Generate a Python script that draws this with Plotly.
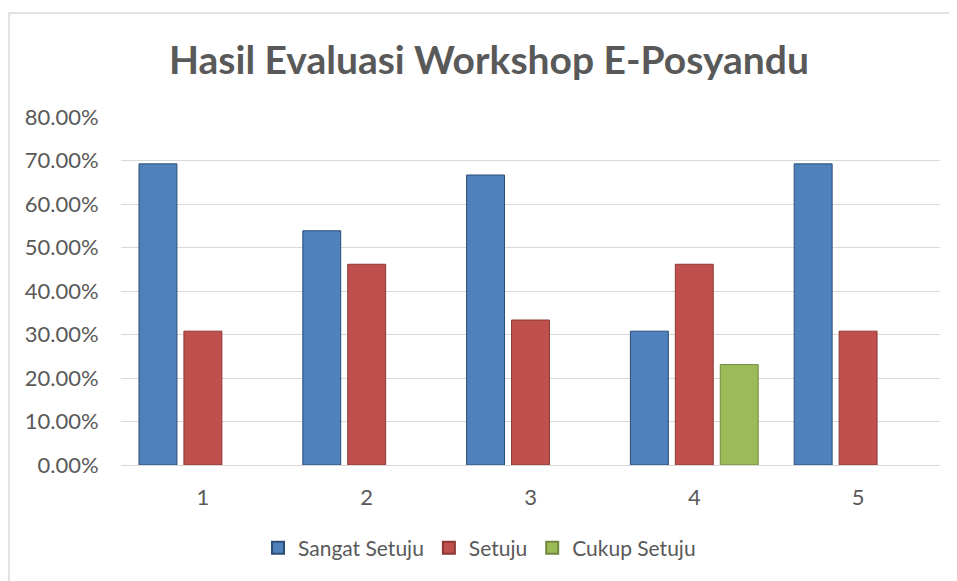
import plotly.graph_objects as go

categories = ["1", "2", "3", "4", "5"]
sangat_setuju = [0.6923, 0.5385, 0.6667, 0.3077, 0.6923]
setuju = [0.3077, 0.4615, 0.3333, 0.4615, 0.3077]
cukup_setuju = [None, None, None, 0.2308, None]
y_ticks = [0, 0.1, 0.2, 0.3, 0.4, 0.5, 0.6, 0.7, 0.8]

FONT = "Lato"
TXT = "#595959"

fig = go.Figure()
series = [
    ("Sangat Setuju", sangat_setuju, "#4f81bd", "#2c4d75"),
    ("Setuju", setuju, "#c0504d", "#8c3836"),
    ("Cukup Setuju", cukup_setuju, "#9bbb59", "#71893f"),
]
for name, vals, col, edge in series:
    fig.add_trace(go.Bar(
        x=categories, y=vals, name=name,
        marker=dict(color=col, line=dict(color=edge, width=1)),
    ))

# page body has an 8px margin, so figure coords = screen coords - 8
OFF = 8
W, H = 957, 581
L = 121 - OFF
T = 117 - OFF
R = W - (940 - OFF)
B = H - (465 - OFF)
pw, ph = W - L - R, H - T - B

def px_x(x):
    return (x - OFF - L) / pw

def px_y(y):
    return (H - B - (y - OFF)) / ph

fig.add_shape(type="rect", xref="paper", yref="paper",
              x0=px_x(9), x1=px_x(1000), y0=px_y(640), y1=px_y(13),
              line=dict(color="#d9d9d9", width=1.5), fillcolor="rgba(0,0,0,0)", layer="below")

fig.update_layout(
    width=W, height=H,
    margin=dict(l=L, r=R, t=T, b=B, autoexpand=False),
    paper_bgcolor="white", plot_bgcolor="white",
    barmode="group", bargap=0.177, bargroupgap=0.156,
    font=dict(family=FONT, color=TXT, size=21),
    title=dict(text="<b>Hasil Evaluasi Workshop E-Posyandu</b>",
               x=(489 - OFF) / W, xanchor="center", y=1 - (60 - OFF) / H, yanchor="middle",
               font=dict(family=FONT, size=39, color=TXT)),
    showlegend=True,
    legend=dict(orientation="h", x=px_x(258), xanchor="left",
                y=px_y(548), yanchor="middle",
                font=dict(family=FONT, size=21, color=TXT),
                itemsizing="constant", traceorder="normal"),
    xaxis=dict(type="category", showgrid=False, showline=True,
               linecolor="#d9d9d9", linewidth=1,
               ticks="outside", ticklen=13, tickcolor="rgba(0,0,0,0)",
               tickfont=dict(family=FONT, size=22, color=TXT)),
    yaxis=dict(range=[0, 0.8], tickvals=y_ticks, tickformat=".2%",
               showgrid=True, gridcolor="#d9d9d9", gridwidth=1,
               zeroline=False, showline=False,
               ticks="outside", ticklen=17, tickcolor="rgba(0,0,0,0)",
               tickfont=dict(family=FONT, size=22, color=TXT)),
)

fig.write_html("out.html")
